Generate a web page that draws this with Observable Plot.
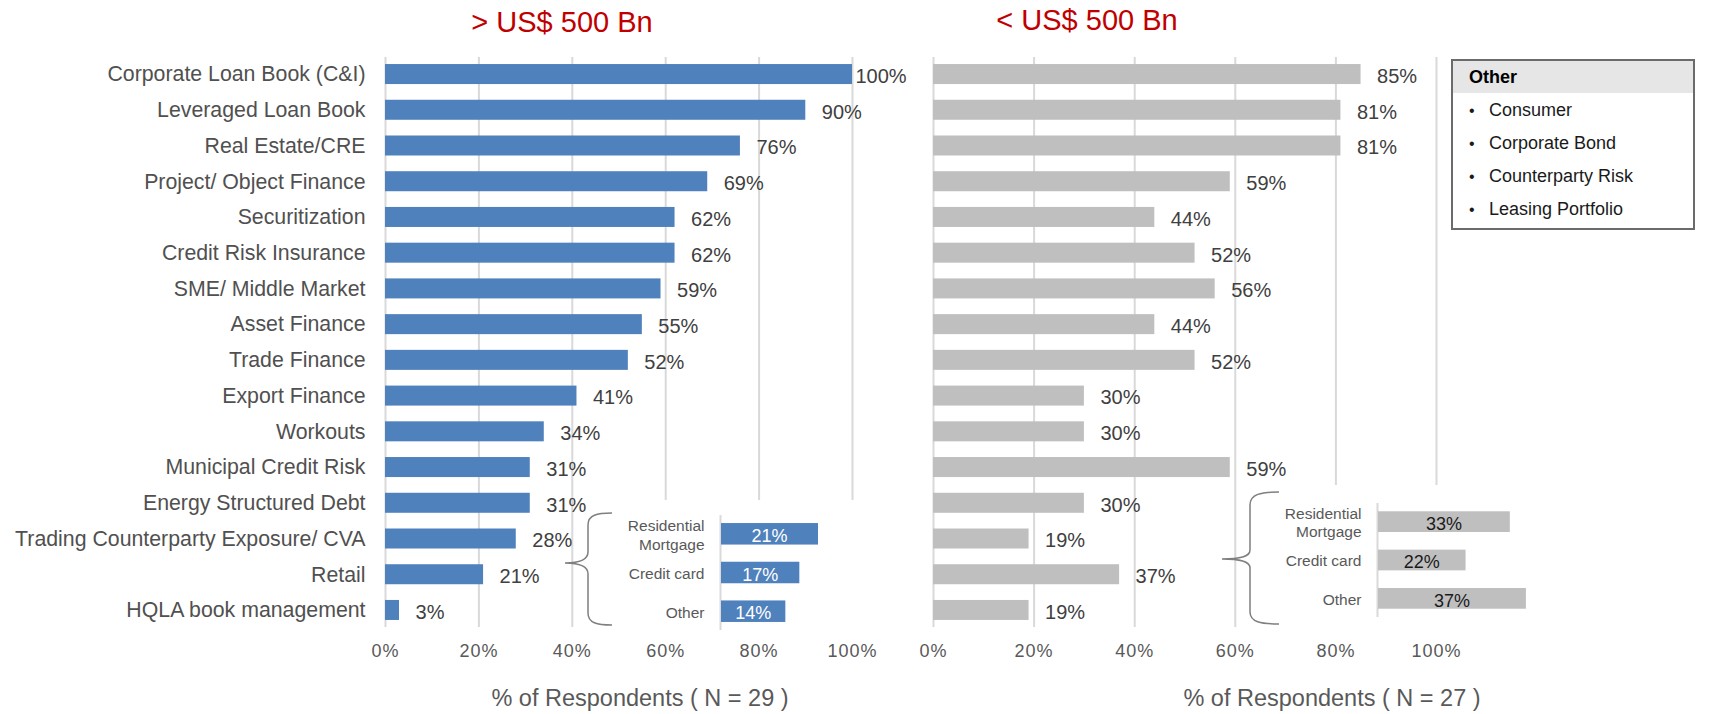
<!DOCTYPE html>
<html>
<head>
<meta charset="utf-8">
<script src="https://cdn.jsdelivr.net/npm/d3@7"></script>
<script src="https://cdn.jsdelivr.net/npm/@observablehq/plot@0.6"></script>
<style>
  html, body { margin: 0; padding: 0; background: #fff; }
  body { font-family: "Liberation Sans", Arial, sans-serif; }
  #wrap { position: relative; width: 1719px; height: 714px; overflow: hidden; background: #fff; }
  .title { color: #c00000; font-size: 29px; line-height: 29px; white-space: nowrap; transform: translateX(-50%); }
  .xtitle { color: #595959; font-size: 23.5px; line-height: 23.5px; white-space: nowrap; transform: translateX(-50%); }
  [aria-label="x-axis tick label"] text { letter-spacing: 1px; }
  #legend { width: 244px; height: 171px; box-sizing: border-box; border: 2px solid #6b6b6b; background: #fff; }
  #legend .hd { height: 32px; background: #e6e6e6; font-weight: bold; font-size: 18px; line-height: 32px; padding-left: 16px; color: #000; }
  #legend .it { height: 33.2px; line-height: 33.2px; font-size: 18px; color: #1a1a1a; padding-left: 36px; position: relative; }
  #legend .it::before { content: "•"; position: absolute; left: 16px; font-size: 16px; }
  #legend .list { padding-top: 0.5px; }
</style>
</head>
<body>
<div id="wrap"></div>
<script>
// ---------- data ----------
const categories = [
  "Corporate Loan Book (C&I)", "Leveraged Loan Book", "Real Estate/CRE", "Project/ Object Finance",
  "Securitization", "Credit Risk Insurance", "SME/ Middle Market", "Asset Finance", "Trade Finance",
  "Export Finance", "Workouts", "Municipal Credit Risk", "Energy Structured Debt",
  "Trading Counterparty Exposure/ CVA", "Retail", "HQLA book management"
];
const largeBanks = [100, 90, 76, 69, 62, 62, 59, 55, 52, 41, 34, 31, 31, 28, 21, 3];
const smallBanks = [85, 81, 81, 59, 44, 52, 56, 44, 52, 30, 30, 59, 30, 19, 37, 19];

const retailCategories = ["Residential\nMortgage", "Credit card", "Other"];
const retailLarge = [21, 17, 14];
const retailSmall = [33, 22, 37];

const xTicks = [0, 20, 40, 60, 80, 100];
const panelTitles = ["> US$ 500 Bn", "< US$ 500 Bn"];
const axisTitles = ["% of Respondents ( N = 29 )", "% of Respondents ( N = 27 )"];
const otherTitle = "Other";
const otherItems = ["Consumer", "Corporate Bond", "Counterparty Risk", "Leasing Portfolio"];

// ---------- helpers ----------
const FONT = "Liberation Sans, Arial, sans-serif";
const wrap = document.getElementById("wrap");
function place(node, left, top) {
  node.style.position = "absolute";
  node.style.left = left + "px";
  node.style.top = top + "px";
  wrap.appendChild(node);
  return node;
}
const pct = d => d + "%";

function mainPanel(values, color, showY) {
  const data = categories.map((c, i) => ({category: c, value: values[i]}));
  const marks = [
    Plot.gridX({ticks: xTicks, stroke: "#d9d9d9", strokeOpacity: 1, strokeWidth: 2}),
    Plot.barX(data, {x: "value", y: "category", fill: color}),
    Plot.text(data.filter(d => d.value < 100), {x: "value", y: "category", text: d => pct(d.value), textAnchor: "start", dx: 16, dy: 2, fontSize: 20, fill: "#404040"}),
    Plot.text(data.filter(d => d.value >= 100), {x: "value", y: "category", text: d => pct(d.value), textAnchor: "start", dx: 3, dy: 2, fontSize: 20, fill: "#404040"}),
    Plot.axisX({ticks: xTicks, tickSize: 0, tickPadding: 17, tickFormat: pct, fontSize: 18, fill: "#595959", label: null})
  ];
  if (showY) marks.push(Plot.axisY({tickSize: 0, tickPadding: 20, fontSize: 21.3, fill: "#505050", label: null}));
  return marks;
}

// Left main panel
place(Plot.plot({
  width: 870, height: 714,
  marginLeft: 385, marginRight: 18, marginTop: 57, marginBottom: 87,
  style: {fontFamily: FONT, background: "transparent", overflow: "visible"},
  x: {domain: [0, 100]},
  y: {domain: categories, paddingInner: 0.44, paddingOuter: 0.197, round: false},
  marks: mainPanel(largeBanks, "#4f81bd", true)
}), 0, 0);

// Right main panel
place(Plot.plot({
  width: 600, height: 714,
  marginLeft: 53, marginRight: 44, marginTop: 57, marginBottom: 87,
  style: {fontFamily: FONT, background: "transparent", overflow: "visible"},
  x: {domain: [0, 100]},
  y: {domain: categories, paddingInner: 0.44, paddingOuter: 0.197, round: false, axis: null},
  marks: mainPanel(smallBanks, "#bfbfbf", false)
}), 880, 0);

// Insets (Retail breakdown)
function inset(values, color, labelColor, opts) {
  const data = retailCategories.map((c, i) => ({category: c, value: values[i]}));
  return Plot.plot({
    width: opts.width, height: opts.height,
    marginLeft: opts.marginLeft, marginRight: 10, marginTop: opts.marginTop, marginBottom: opts.marginBottom,
    style: {fontFamily: FONT, background: "#fff"},
    x: {domain: [0, opts.xmax], axis: null},
    y: {domain: retailCategories, paddingInner: opts.pi, paddingOuter: opts.po, round: false, axis: null},
    marks: [
      Plot.ruleX([0], {stroke: "#d9d9d9", strokeWidth: 2}),
      Plot.barX(data, {x1: 0, x2: "value", y: "category", fill: color, insetLeft: 1}),
      Plot.text(data, {x: d => d.value / 2, y: "category", text: d => pct(d.value), fontSize: 18, fill: labelColor, dy: 2}),
      Plot.text(data, {x: 0, y: "category", text: "category", textAnchor: "end", dx: -16, fontSize: 15.5, lineHeight: 1.2, fill: "#595959"})
    ]
  });
}
place(inset(retailLarge, "#4f81bd", "#ffffff", {width: 270, height: 130, marginLeft: 120, marginTop: 15, marginBottom: 0, xmax: 30, pi: 0.444, po: 0.208}), 600, 500);
place(inset(retailSmall, "#bfbfbf", "#1a1a1a", {width: 303, height: 142, marginLeft: 132, marginTop: 18, marginBottom: 10, xmax: 40, pi: 0.46, po: 0.216}), 1245, 485);

// Braces (annotation)
const ns = "http://www.w3.org/2000/svg";
const over = document.createElementNS(ns, "svg");
over.setAttribute("width", 1719); over.setAttribute("height", 714);
over.style.pointerEvents = "none";
[
  "M612,513 C597,513 588,515 588,525 L588,552 C588,560 580,563 565,563 C580,563 588,566 588,574 L588,613 C588,623 597,625 612,625",
  "M1279,492 C1261,492 1250,494 1250,505 L1250,550 C1250,557 1240,559 1222,559 C1240,559 1250,561 1250,568 L1250,612 C1250,622 1261,624 1279,624"
].forEach(d => {
  const p = document.createElementNS(ns, "path");
  p.setAttribute("d", d); p.setAttribute("fill", "none");
  p.setAttribute("stroke", "#7f7f7f"); p.setAttribute("stroke-width", "1.5");
  over.appendChild(p);
});
place(over, 0, 0);

// Titles
[[panelTitles[0], 562, 7.5], [panelTitles[1], 1087, 5.5]].forEach(([t, x, y]) => {
  const d = document.createElement("div"); d.className = "title"; d.textContent = t; place(d, x, y);
});
[[axisTitles[0], 640, 687], [axisTitles[1], 1332, 687]].forEach(([t, x, y]) => {
  const d = document.createElement("div"); d.className = "xtitle"; d.textContent = t; place(d, x, y);
});

// "Other" box
const lg = document.createElement("div"); lg.id = "legend";
const hd = document.createElement("div"); hd.className = "hd"; hd.textContent = otherTitle; lg.appendChild(hd);
const list = document.createElement("div"); list.className = "list";
otherItems.forEach(t => { const it = document.createElement("div"); it.className = "it"; it.textContent = t; list.appendChild(it); });
lg.appendChild(list);
place(lg, 1451, 59);
</script>
</body>
</html>
